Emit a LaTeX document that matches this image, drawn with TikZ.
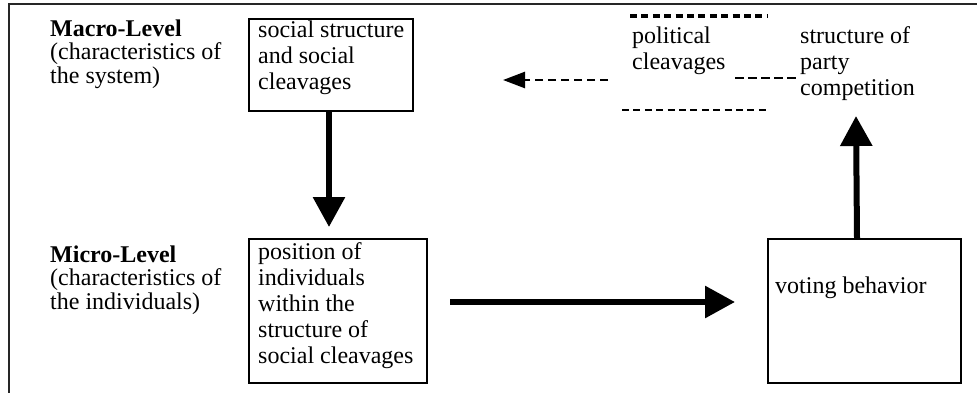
\documentclass[tikz,border=0pt]{standalone}
\usepackage{fontspec}
\setmainfont{Liberation Serif}
\usetikzlibrary{arrows.meta}
\tikzset{
  box/.style={draw=black, line width=2pt, inner sep=0pt, anchor=north west},
  txt/.style={font=\fontsize{24}{26}\selectfont, align=left, inner sep=0pt, anchor=base west},
  lbl/.style={txt, font=\fontsize{24}{23.5}\selectfont},
  bigarrow/.style={line width=6pt, -{Triangle[length=30pt,width=31pt]}},
  dasharrow/.style={line width=2.5pt, dash pattern=on 8pt off 5pt, -{Triangle[length=22pt,width=16pt]}},
  dotline/.style={line width=3.5pt, dash pattern=on 7pt off 4.4pt},
}
\begin{document}
\begin{tikzpicture}[x=1pt,y=-1pt]
\useasboundingbox (0,0) rectangle (977,392);
\clip (0,0) rectangle (977,392);
% frame
\draw[line width=2.5pt, black!85] (9,420) -- (9,4) -- (1000,4);
% level labels (anchor = baseline of last line)
\node[lbl] (macro) at (50,83) {\textbf{Macro-Level}\\(characteristics of\\the system)};
\node[lbl] (micro) at (50,309) {\textbf{Micro-Level}\\(characteristics of\\the individuals)};
% boxes
\node[box, minimum width=164pt, minimum height=92pt] (soc) at (248,18) {};
\node[txt] (soct) at (258,89) {social structure\\and social\\cleavages};
\node[box, minimum width=178pt, minimum height=144pt] (pos) at (248,238) {};
\node[txt] (post) at (258,363) {position of\\individuals\\within the\\structure of\\social cleavages};
\node[box, minimum width=193pt, minimum height=144pt] (vote) at (767,238) {};
\node[txt] (votet) at (775,293) {voting behavior};
% political side
\node[txt] (pol) at (632,69) {political\\cleavages};
\node[txt] (party) at (800,95) {structure of\\party\\competition};
\draw[dotline] (630,16) -- (767,16);
\draw[dotline, line width=2.5pt] (622,110) -- (767,110);
\draw[line width=2.5pt, dash pattern=on 9pt off 4pt] (735,78) -- (798,78);
% arrows
\draw[bigarrow] ([xshift=-2pt]soc.south) -- ([xshift=-2pt,yshift=11pt]pos.north -| soc.south);
\draw[bigarrow] ([xshift=22pt,yshift=9pt]pos.east) -- ([xshift=-32pt,yshift=9pt]vote.west);
\coordinate (uptip) at (856,116);
\draw[bigarrow] ([xshift=-7.5pt]vote.north) -- (uptip);
\coordinate (dstart) at (608,80);
\coordinate (dtip) at (503,80);
\draw[dasharrow] (dstart) -- (dtip);
\end{tikzpicture}
\end{document}
